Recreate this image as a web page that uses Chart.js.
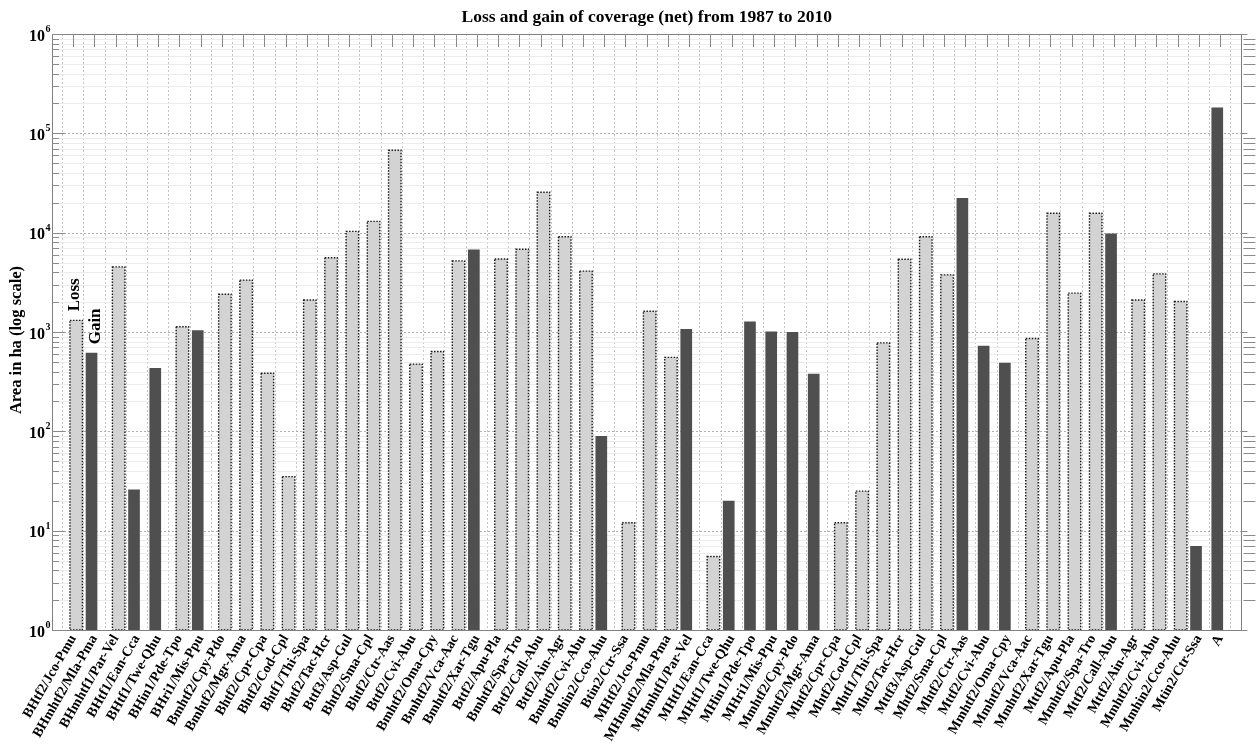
<!DOCTYPE html>
<html lang="en">
<head>
    <meta charset="UTF-8">
    <title>Loss and gain of coverage (net) from 1987 to 2010</title>
    <script src="https://cdn.jsdelivr.net/npm/chart.js"></script>
    <style>
        body { margin: 0; background: #fff; }
        #wrap { width: 1258px; height: 748px; }
    </style>
</head>
<body>
    <div id="wrap"><canvas id="coverChart"></canvas></div>
    <script>
        // classes along the x axis, one bar each
        const categories = [
            'BHtf2/Jco-Pmu', 'BHmhtf2/Mla-Pma', 'BHmhtf1/Par-Vel', 'BHtf1/Ean-Cca', 'BHtf1/Twe-Qhu',
            'BHin1/Pde-Tpo', 'BHri1/Mis-Ppu', 'Bmhtf2/Cpy-Pdo', 'Bmhtf2/Mgr-Ama', 'Bhtf2/Cpr-Cpa',
            'Bhtf2/Cod-Cpl', 'Bhtf1/Thi-Spa', 'Bhtf2/Tac-Hcr', 'Bttf3/Asp-Gul', 'Bhtf2/Sma-Cpl',
            'Bhtf2/Ctr-Aas', 'Bttf2/Cvi-Abu', 'Bmhtf2/Oma-Cpy', 'Bmhtf2/Vca-Aac', 'Bmhtf2/Xar-Tgu',
            'Bttf2/Apu-Pla', 'Bmhtf2/Spa-Tro', 'Bttf2/Call-Abu', 'Bttf2/Ain-Agr', 'Bmhtf2/Cvi-Abu',
            'Bmhin2/Cco-Ahu', 'Btin2/Ctr-Ssa', 'MHtf2/Jco-Pmu', 'MHmhtf2/Mla-Pma', 'MHmhtf1/Par-Vel',
            'MHtf1/Ean-Cca', 'MHtf1/Twe-Qhu', 'MHin1/Pde-Tpo', 'MHri1/Mis-Ppu', 'Mmhtf2/Cpy-Pdo',
            'Mmhtf2/Mgr-Ama', 'Mhtf2/Cpr-Cpa', 'Mhtf2/Cod-Cpl', 'Mhtf1/Thi-Spa', 'Mhtf2/Tac-Hcr',
            'Mttf3/Asp-Gul', 'Mhtf2/Sma-Cpl', 'Mhtf2/Ctr-Aas', 'Mttf2/Cvi-Abu', 'Mmhtf2/Oma-Cpy',
            'Mmhtf2/Vca-Aac', 'Mmhtf2/Xar-Tgu', 'Mttf2/Apu-Pla', 'Mmhtf2/Spa-Tro', 'Mttf2/Call-Abu',
            'Mttf2/Ain-Agr', 'Mmhtf2/Cvi-Abu', 'Mmhin2/Cco-Ahu', 'Mtin2/Ctr-Ssa', 'A'
        ];

        // net loss (ha), null where the class gained
        const lossValues = [
            1310, null, 4520, null, null, 1130, null, 2400, 3330, 385,
            35, 2100, 5600, 10300, 13000, 67500, 475, 637, 5200, null,
            5430, 6800, 25500, 9100, 4100, null, 12, 1620, 555, null,
            5.5, null, null, null, null, null, 12, 25, 777, 5400,
            9100, 3760, null, null, null, 860, 15700, 2460, 15700, null,
            2100, 3850, 2030, null, null
        ];

        // net gain (ha), null where the class lost
        const gainValues = [
            null, 617, null, 26, 435, null, 1040, null, null, null,
            null, null, null, null, null, null, null, null, null, 6760,
            null, null, null, null, null, 90, null, null, null, 1075,
            null, 20, 1275, 1012, 1002, 379, null, null, null, null,
            null, null, 22300, 726, 489, null, null, null, null, 9800,
            null, null, null, 7, 182000
        ];

        const yDecades = [0, 1, 2, 3, 4, 5, 6];

        const serif = '"Liberation Serif", "Times New Roman", serif';

        // grid, frame, tick marks, dotted bar edges and all free text
        const matlabLook = {
            id: 'matlabLook',
            beforeDatasetsDraw(chart) {
                const { ctx, chartArea: a, scales: { y } } = chart;
                ctx.save();
                ctx.lineWidth = 1;
                yDecades.forEach(e => {
                    if (e < 6) {
                        for (let m = 2; m <= 9; m++) {
                            const py = Math.round(y.getPixelForValue(m * Math.pow(10, e))) + 0.5;
                            ctx.strokeStyle = '#ececec';
                            ctx.setLineDash([]);
                            ctx.beginPath();
                            ctx.moveTo(a.left, py);
                            ctx.lineTo(a.right, py);
                            ctx.stroke();
                        }
                    }
                    const py = Math.round(y.getPixelForValue(Math.pow(10, e))) + 0.5;
                    ctx.strokeStyle = '#b0b0b0';
                    ctx.setLineDash([2, 2]);
                    ctx.beginPath();
                    ctx.moveTo(a.left, py);
                    ctx.lineTo(a.right, py);
                    ctx.stroke();
                });
                ctx.restore();
            },
            afterDatasetsDraw(chart) {
                const { ctx, chartArea: a, scales: { x, y } } = chart;
                ctx.save();

                // dotted outline on the loss bars
                const lossMeta = chart.getDatasetMeta(1);
                ctx.strokeStyle = '#1a1a1a';
                ctx.lineWidth = 1.4;
                ctx.setLineDash([1.5, 1.5]);
                lossMeta.data.forEach((bar, i) => {
                    if (chart.data.datasets[1].data[i] == null) return;
                    const p = bar.getProps(['x', 'y', 'base', 'width'], true);
                    ctx.strokeRect(p.x - p.width / 2, p.y, p.width, p.base - p.y);
                });
                ctx.setLineDash([]);

                // frame
                ctx.strokeStyle = '#808080';
                ctx.lineWidth = 1;
                ctx.strokeRect(Math.round(a.left) + 0.5, Math.round(a.top) + 0.5,
                    Math.round(a.right - a.left), Math.round(a.bottom - a.top));

                // top tick marks
                ctx.strokeStyle = '#8a8a8a';
                for (let i = 1; i <= categories.length; i++) {
                    const px = Math.round(x.getPixelForValue(i)) + 0.5;
                    ctx.beginPath();
                    ctx.moveTo(px, a.top);
                    ctx.lineTo(px, a.top + 13);
                    ctx.stroke();
                }

                // left (inward) and right (outward) y ticks
                yDecades.forEach(e => {
                    const py = Math.round(y.getPixelForValue(Math.pow(10, e))) + 0.5;
                    ctx.beginPath();
                    ctx.moveTo(a.left, py);
                    ctx.lineTo(a.left + 13, py);
                    ctx.moveTo(a.right, py);
                    ctx.lineTo(a.right + 6, py);
                    ctx.stroke();
                    if (e < 6) {
                        for (let m = 2; m <= 9; m++) {
                            const my = Math.round(y.getPixelForValue(m * Math.pow(10, e))) + 0.5;
                            ctx.beginPath();
                            ctx.moveTo(a.left, my);
                            ctx.lineTo(a.left + 7, my);
                            ctx.moveTo(a.right + 2, my);
                            ctx.lineTo(a.right + 14, my);
                            ctx.stroke();
                        }
                    }
                });

                // Loss / Gain notes above the first two bars
                ctx.fillStyle = '#000';
                ctx.font = 'bold 17px ' + serif;
                ctx.textAlign = 'left';
                ctx.textBaseline = 'alphabetic';
                const lossBar = lossMeta.data[1].getProps(['x', 'y'], true);
                ctx.save();
                ctx.translate(lossBar.x + 3, lossBar.y - 9);
                ctx.rotate(-Math.PI / 2);
                ctx.fillText('Loss', 0, 0);
                ctx.restore();
                const gainBar = chart.getDatasetMeta(0).data[2].getProps(['x', 'y'], true);
                ctx.save();
                ctx.translate(gainBar.x + 8, gainBar.y - 8.5);
                ctx.rotate(-Math.PI / 2);
                ctx.fillText('Gain', 0, 0);
                ctx.restore();

                ctx.restore();
            },
            afterDraw(chart) {
                const { ctx, chartArea: a, scales: { y } } = chart;
                ctx.save();
                ctx.fillStyle = '#000';

                // title
                ctx.font = 'bold 17.5px ' + serif;
                ctx.textAlign = 'center';
                ctx.textBaseline = 'alphabetic';
                ctx.fillText('Loss and gain of coverage (net) from 1987 to 2010', (a.left + a.right) / 2, 21.5);

                // y axis title
                ctx.font = 'bold 16.5px ' + serif;
                ctx.save();
                ctx.translate(21, 340);
                ctx.rotate(-Math.PI / 2);
                ctx.fillText('Area in ha (log scale)', 0, 0);
                ctx.restore();

                // decade labels 10^n
                yDecades.forEach(e => {
                    const py = y.getPixelForValue(Math.pow(10, e));
                    ctx.font = 'bold 16px ' + serif;
                    ctx.textAlign = 'right';
                    ctx.fillText('10', 45, py + 6.5);
                    ctx.font = 'bold 10px ' + serif;
                    ctx.textAlign = 'left';
                    ctx.fillText(String(e), 45.5, py - 2);
                });
                ctx.restore();
            }
        };

        const ctx = document.getElementById('coverChart').getContext('2d');
        new Chart(ctx, {
            type: 'bar',
            data: {
                labels: ['', ...categories, ''],
                datasets: [
                    {
                        label: 'Gain',
                        data: [null, ...gainValues, null],
                        backgroundColor: '#4f4f4f',
                        borderWidth: 0,
                        categoryPercentage: 0.555,
                        barPercentage: 1.98
                    },
                    {
                        label: 'Loss',
                        data: [null, ...lossValues, null],
                        backgroundColor: '#d3d3d3',
                        borderWidth: 0,
                        categoryPercentage: 0.555,
                        barPercentage: 2.12
                    }
                ]
            },
            options: {
                responsive: true,
                maintainAspectRatio: false,
                animation: false,
                layout: { padding: { top: 34, right: 16, left: 0, bottom: 0 } },
                plugins: {
                    legend: { display: false },
                    tooltip: { enabled: false }
                },
                scales: {
                    x: {
                        type: 'category',
                        offset: false,
                        afterFit: scale => { scale.height = 118; },
                        grid: { color: '#c4c4c4', drawTicks: false },
                        border: { display: false, dash: [2, 2] },
                        ticks: {
                            autoSkip: false,
                            minRotation: 60,
                            maxRotation: 60,
                            padding: 2,
                            color: '#000',
                            font: { family: serif, size: 14, weight: 'bold' }
                        }
                    },
                    y: {
                        type: 'logarithmic',
                        min: 1,
                        max: 1000000,
                        afterFit: scale => { scale.width = 52; },
                        grid: { display: false },
                        border: { display: false },
                        ticks: { display: false }
                    }
                }
            },
            plugins: [matlabLook]
        });
    </script>
</body>
</html>
